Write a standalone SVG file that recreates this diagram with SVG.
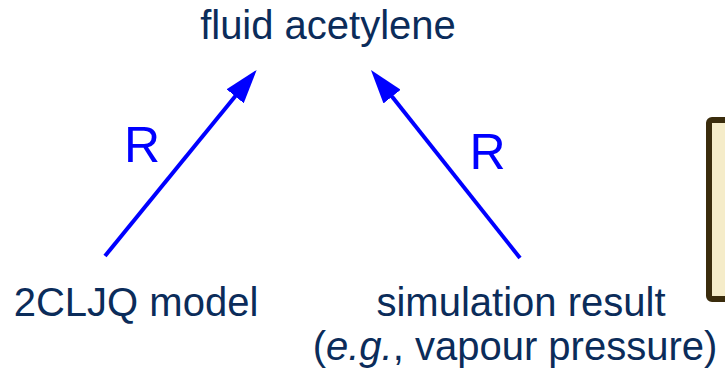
<svg xmlns="http://www.w3.org/2000/svg" width="725" height="368" viewBox="0 0 725 368">
<style>
.t{font-family:"Liberation Sans",Arial,sans-serif;font-size:40px;fill:#0b2c5a;text-anchor:middle}
.r{font-family:"Liberation Sans",Arial,sans-serif;font-size:50px;fill:#0000ff;text-anchor:middle}
.c{stroke:#0000ff;stroke-width:4;fill:none;marker-end:url(#ah)}
</style>
<defs>
<marker id="ah" markerUnits="userSpaceOnUse" markerWidth="34" markerHeight="22" refX="4" refY="11" orient="auto" viewBox="0 0 34 22">
<path d="M0,0 L34,11 L0,22 z" fill="#0000ff"/>
</marker>
</defs>
<rect width="725" height="368" fill="#ffffff"/>
<g id="box"><rect x="709" y="120" width="40" height="179" rx="3" fill="#f5ecc9" stroke="#3a2c0c" stroke-width="6"/></g>
<g id="acetylene"><text class="t" x="328" y="39">fluid acetylene</text></g>
<g id="model"><text class="t" x="136" y="316">2CLJQ model</text></g>
<g id="simulation"><text class="t" x="521" y="316">simulation result</text><text class="t" x="515" y="360">(<tspan font-style="italic">e.g.</tspan>, vapour pressure)</text></g>
<g id="connectors">
<line class="c" x1="105" y1="256" x2="237.7" y2="93.2"/>
<line class="c" x1="520" y1="258" x2="389.6" y2="93.5"/>
<text class="r" x="142" y="162">R</text>
<text class="r" x="487.5" y="169">R</text>
</g>
</svg>
